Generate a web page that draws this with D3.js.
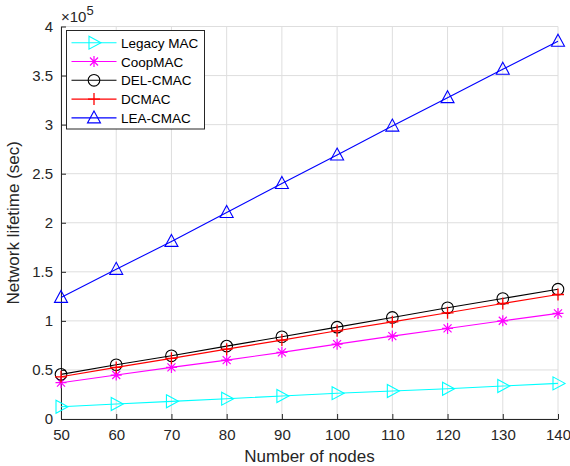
<!DOCTYPE html>
<html>
<head>
<meta charset="utf-8">
<script src="https://cdn.jsdelivr.net/npm/d3@7"></script>
<style>
  body { margin: 0; background: #fff; }
  text { font-family: "Liberation Sans", Arial, sans-serif; }
</style>
</head>
<body>
<div id="chart"></div>
<script>
// Number of nodes on the x axis
const nodes = [50, 60, 70, 80, 90, 100, 110, 120, 130, 140];

// Network lifetime (sec)
const legacyMac = [12500, 15300, 18000, 20700, 23400, 26300, 28500, 30800, 33600, 36300];
const coopMac   = [37000, 44800, 52600, 60000, 67900, 76300, 84500, 92300, 100100, 107600];
const delCmac   = [45500, 55300, 64400, 74300, 83800, 93600, 103500, 113300, 122800, 132300];
const dcMac     = [43000, 52600, 61800, 71200, 80400, 89900, 99000, 108200, 117700, 126900];
const leaCmac   = [123900, 152500, 181000, 210500, 240000, 269000, 298500, 327500, 356500, 385000];

const yTicks = [0, 50000, 100000, 150000, 200000, 250000, 300000, 350000, 400000];
const yTickLabels = ['0', '0.5', '1', '1.5', '2', '2.5', '3', '3.5', '4'];

const series = [
  { name: 'Legacy MAC', values: legacyMac, color: '#00ffff', marker: 'triRight' },
  { name: 'CoopMAC',    values: coopMac,   color: '#ff00ff', marker: 'asterisk' },
  { name: 'DEL-CMAC',   values: delCmac,   color: '#000000', marker: 'circle' },
  { name: 'DCMAC',      values: dcMac,     color: '#ff0000', marker: 'plus' },
  { name: 'LEA-CMAC',   values: leaCmac,   color: '#0000ff', marker: 'triUp' }
];

const width = 570, height = 466;
const margin = { top: 26.5, right: 12, bottom: 47, left: 61 };

const svg = d3.select('#chart')
  .append('svg')
    .attr('width', width)
    .attr('height', height);

const x = d3.scaleLinear().domain([50, 140]).range([margin.left, width - margin.right]);
const y = d3.scaleLinear().domain([0, 400000]).range([height - margin.bottom, margin.top]);

// grid
svg.append('g')
  .selectAll('line.vg')
  .data(nodes)
  .join('line')
    .attr('x1', d => x(d)).attr('x2', d => x(d))
    .attr('y1', y(0)).attr('y2', y(400000))
    .attr('stroke', '#dedede').attr('stroke-width', 1);

svg.append('g')
  .selectAll('line.hg')
  .data(yTicks)
  .join('line')
    .attr('x1', x(50)).attr('x2', x(140))
    .attr('y1', d => y(d)).attr('y2', d => y(d))
    .attr('stroke', '#dedede').attr('stroke-width', 1);

// axes, ticks pointing inward like MATLAB
const xAxis = svg.append('g')
  .attr('transform', `translate(0,${y(0)})`)
  .call(d3.axisBottom(x).tickValues(nodes).tickSizeInner(-5).tickSizeOuter(0).tickPadding(10));

const yAxis = svg.append('g')
  .attr('transform', `translate(${x(50)},0)`)
  .call(d3.axisLeft(y).tickValues(yTicks).tickFormat((d, i) => yTickLabels[i])
    .tickSizeInner(-5).tickSizeOuter(0).tickPadding(8));

[xAxis, yAxis].forEach(g => {
  g.select('.domain').attr('stroke', '#262626');
  g.selectAll('.tick line').attr('stroke', '#262626');
  g.selectAll('.tick text')
    .attr('fill', '#262626')
    .style('font-size', '15px')
    .style('font-family', '"Liberation Sans", Arial, sans-serif');
});

// exponent label
const expo = svg.append('text')
  .attr('x', x(50))
  .attr('y', 22)
  .attr('fill', '#262626')
  .style('font-size', '15px');
expo.append('tspan').text('\u00d710');
expo.append('tspan').attr('dy', -7).style('font-size', '13px').text('5');

// axis titles
svg.append('text')
  .attr('x', (x(50) + x(140)) / 2)
  .attr('y', 462)
  .attr('text-anchor', 'middle')
  .attr('fill', '#262626')
  .style('font-size', '17px')
  .text('Number of nodes');

svg.append('text')
  .attr('transform', `translate(19,${(y(0) + y(400000)) / 2}) rotate(-90)`)
  .attr('text-anchor', 'middle')
  .attr('fill', '#262626')
  .style('font-size', '17px')
  .text('Network lifetime (sec)');

// marker drawing
function drawMarker(g, type, color) {
  if (type === 'triRight') {
    g.append('path').attr('d', 'M-5,-6.5L7,0L-5,6.5Z')
      .attr('fill', 'none').attr('stroke', color).attr('stroke-width', 1.1);
  } else if (type === 'triUp') {
    g.append('path').attr('d', 'M0,-7L6.5,5L-6.5,5Z')
      .attr('fill', 'none').attr('stroke', color).attr('stroke-width', 1.1);
  } else if (type === 'circle') {
    g.append('circle').attr('r', 5.8)
      .attr('fill', 'none').attr('stroke', color).attr('stroke-width', 1.1);
  } else if (type === 'plus') {
    g.append('path').attr('d', 'M-6,0H6M0,-6V6')
      .attr('stroke', color).attr('stroke-width', 1.3);
  } else if (type === 'asterisk') {
    g.append('path').attr('d', 'M-5.5,0H5.5M0,-5.5V5.5M-4,-4L4,4M-4,4L4,-4')
      .attr('stroke', color).attr('stroke-width', 1.2);
  }
}

const line = d3.line().x((d, i) => x(nodes[i])).y(d => y(d));

series.forEach(s => {
  svg.append('path')
    .datum(s.values)
    .attr('d', line)
    .attr('fill', 'none')
    .attr('stroke', s.color)
    .attr('stroke-width', 1.1);

  svg.append('g')
    .selectAll('g')
    .data(s.values)
    .join('g')
      .attr('transform', (d, i) => `translate(${x(nodes[i])},${y(d)})`)
      .each(function () { drawMarker(d3.select(this), s.marker, s.color); });
});

// legend
const legend = svg.append('g').attr('transform', 'translate(66.5,30.5)');
legend.append('rect')
  .attr('width', 138).attr('height', 98.5)
  .attr('fill', '#fff').attr('stroke', '#262626').attr('stroke-width', 1);

series.forEach((s, i) => {
  const gy = 12.2 + i * 18.8;
  legend.append('line')
    .attr('x1', 5).attr('x2', 50)
    .attr('y1', gy).attr('y2', gy)
    .attr('stroke', s.color).attr('stroke-width', 1.1);
  const m = legend.append('g').attr('transform', `translate(27.5,${gy})`);
  drawMarker(m, s.marker, s.color);
  legend.append('text')
    .attr('x', 54.5).attr('y', gy + 5)
    .attr('fill', '#000')
    .style('font-size', '13.5px')
    .text(s.name);
});
</script>
</body>
</html>
